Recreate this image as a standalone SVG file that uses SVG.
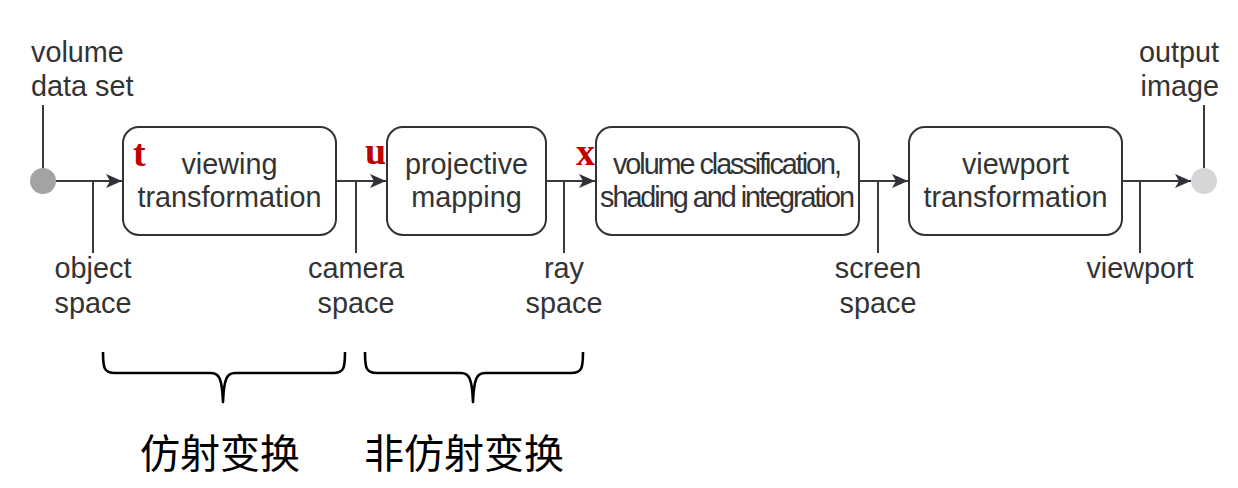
<svg xmlns="http://www.w3.org/2000/svg" width="1238" height="488" viewBox="0 0 1238 488">
  <style>
    .lbl { font-family: "Liberation Sans", Arial, sans-serif; font-size: 28.8px; fill: #333333; }
    .mid { text-anchor: middle; }
    .box { fill: #ffffff; stroke: #333333; stroke-width: 2; }
    .ln { stroke: #3a3a3a; stroke-width: 2; fill: none; }
    .var { font-family: "Liberation Serif", "Times New Roman", serif; font-size: 38px; font-weight: bold; fill: #c00000; }
    .brace { stroke: #000000; stroke-width: 2.6; fill: none; stroke-linejoin: round; }
    .cjk { font-family: "Liberation Serif", "Noto Sans CJK SC", sans-serif; font-size: 40px; fill: #000000; }
  </style>
  <defs>
    <marker id="arr" markerUnits="userSpaceOnUse" markerWidth="18" markerHeight="14" refX="16" refY="7" orient="auto">
      <path d="M0,0 L16,7 L0,14 L4,7 Z" fill="#2f3238"/>
    </marker>
  </defs>
  <rect width="1238" height="488" fill="#ffffff"/>

  <g id="connectors">
    <line class="ln" x1="43" y1="105" x2="43" y2="168"/>
    <line class="ln" x1="56" y1="181" x2="122" y2="181" marker-end="url(#arr)"/>
    <line class="ln" x1="93" y1="181" x2="93" y2="253"/>
    <line class="ln" x1="336" y1="181" x2="386" y2="181" marker-end="url(#arr)"/>
    <line class="ln" x1="356" y1="181" x2="356" y2="253"/>
    <line class="ln" x1="546" y1="181" x2="595" y2="181" marker-end="url(#arr)"/>
    <line class="ln" x1="564" y1="181" x2="564" y2="253"/>
    <line class="ln" x1="859" y1="181" x2="908" y2="181" marker-end="url(#arr)"/>
    <line class="ln" x1="878" y1="181" x2="878" y2="253"/>
    <line class="ln" x1="1122" y1="181" x2="1191" y2="181" marker-end="url(#arr)"/>
    <line class="ln" x1="1140" y1="181" x2="1140" y2="253"/>
    <line class="ln" x1="1204" y1="105" x2="1204" y2="168"/>
  </g>

  <g id="input">
    <circle cx="43" cy="181" r="13" fill="#a3a3a6"/>
    <text class="lbl" x="31" y="62">volume</text>
    <text class="lbl" x="31" y="96">data set</text>
  </g>

  <g id="output">
    <circle cx="1204" cy="181" r="13" fill="#d6d6d8"/>
    <text class="lbl" x="1219" y="62" text-anchor="end">output</text>
    <text class="lbl" x="1219" y="96" text-anchor="end">image</text>
  </g>

  <g id="viewing">
    <rect class="box" x="123" y="127" width="213" height="108" rx="16"/>
    <text class="lbl mid" x="229.5" y="174">viewing</text>
    <text class="lbl mid" x="229.5" y="207">transformation</text>
    <text class="var" x="133" y="166">t</text>
  </g>

  <g id="projective">
    <rect class="box" x="387" y="127" width="159" height="108" rx="16"/>
    <text class="lbl mid" x="466.5" y="174">projective</text>
    <text class="lbl mid" x="466.5" y="207">mapping</text>
    <text class="var" x="365" y="164">u</text>
  </g>

  <g id="volume">
    <rect class="box" x="596" y="127" width="263" height="108" rx="16"/>
    <text class="lbl mid" x="727.5" y="174" textLength="229" lengthAdjust="spacing">volume classification,</text>
    <text class="lbl mid" x="727.5" y="207" textLength="255" lengthAdjust="spacing">shading and integration</text>
    <text class="var" x="576" y="165">x</text>
  </g>

  <g id="viewport">
    <rect class="box" x="909" y="127" width="213" height="108" rx="16"/>
    <text class="lbl mid" x="1015.5" y="174">viewport</text>
    <text class="lbl mid" x="1015.5" y="207">transformation</text>
  </g>

  <g id="space-labels">
    <text class="lbl mid" x="93" y="278">object</text>
    <text class="lbl mid" x="93" y="313">space</text>
    <text class="lbl mid" x="356" y="278">camera</text>
    <text class="lbl mid" x="356" y="313">space</text>
    <text class="lbl mid" x="564" y="278">ray</text>
    <text class="lbl mid" x="564" y="313">space</text>
    <text class="lbl mid" x="878" y="278">screen</text>
    <text class="lbl mid" x="878" y="313">space</text>
    <text class="lbl mid" x="1140" y="278">viewport</text>
  </g>

  <g id="affine">
    <path class="brace" d="M103,352 C103,368 104,373 115,373 L211,373 C219,373 222,378 223,402 C224,378 227,373 235,373 L333,373 C344,373 345,368 345,352"/>
    <text class="cjk" x="140" y="468">仿射变换</text>
  </g>

  <g id="non-affine">
    <path class="brace" d="M365,352 C365,368 366,373 377,373 L461,373 C469,373 472,378 473,402 C474,378 477,373 485,373 L571,373 C582,373 583,368 583,352"/>
    <text class="cjk" x="364" y="468">非仿射变换</text>
  </g>
</svg>
